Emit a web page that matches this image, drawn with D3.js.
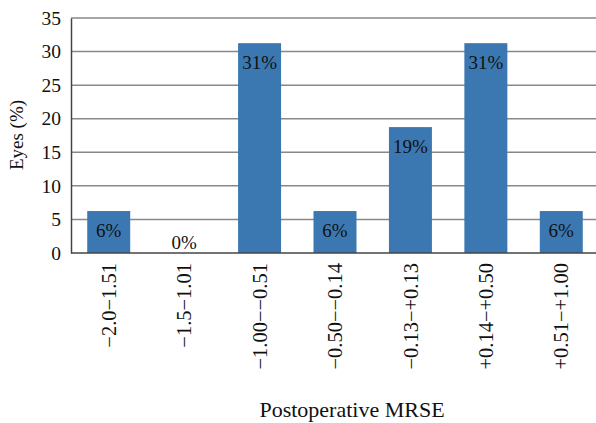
<!DOCTYPE html>
<html><head><meta charset="utf-8">
<script src="https://cdn.jsdelivr.net/npm/d3@7"></script>
<style>body{margin:0;background:#fff}svg{display:block}</style>
</head><body><svg id="c" width="596" height="423" style="font-family:'Liberation Serif',serif"></svg>
<script>
const categories = ["\u22122.0\u22121.51","\u22121.5\u22121.01","\u22121.00\u2212\u22120.51","\u22120.50\u2212\u22120.14","\u22120.13\u2212+0.13","+0.14\u2212+0.50","+0.51\u2212+1.00"];
const values = [6.25, 0, 31.25, 6.25, 18.75, 31.25, 6.25];
const labels = ["6%","0%","31%","6%","19%","31%","6%"];
const yTicks = [0,5,10,15,20,25,30,35];

const FONT = "'Liberation Serif', 'Times New Roman', serif";
const svg = d3.select("#c");
const x = d3.scaleBand().domain(categories).range([71, 599]).paddingInner(0.43).paddingOuter(0.215);
const y = d3.scaleLinear().domain([0,35]).range([253, 18]);

svg.append("g").selectAll("line").data(yTicks.filter(d=>d>0)).join("line")
  .attr("x1",71).attr("x2",596).attr("y1",d=>y(d)).attr("y2",d=>y(d))
  .attr("stroke","#888").attr("stroke-width",1.5);

svg.append("g").selectAll("rect").data(values).join("rect")
  .attr("x",(d,i)=>x(categories[i])).attr("width",x.bandwidth())
  .attr("y",d=>y(d)).attr("height",d=>y(0)-y(d)).attr("fill","#3B78B1");

svg.append("g").selectAll("text").data(values).join("text")
  .attr("x",(d,i)=>x(categories[i])+x.bandwidth()/2)
  .attr("y",d=> d===0 ? y(0)-4 : y(d)+26)
  .attr("text-anchor","middle").style("font-family",FONT).style("font-size","19px").style("fill","#111")
  .text((d,i)=>labels[i]);

const ya = d3.axisLeft(y).tickValues(yTicks).tickSize(0).tickPadding(10);
const gy = svg.append("g").attr("transform","translate(71,0)").call(ya);
gy.select(".domain").attr("stroke","#444").attr("stroke-width",1.5);
gy.selectAll("text").style("font-family",FONT).style("font-size","19.5px").style("fill","#111");

const xa = d3.axisBottom(x).tickSize(0).tickPadding(0);
const gx = svg.append("g").attr("transform","translate(0,253)").call(xa);
gx.select(".domain").attr("d","M71,0H596").attr("stroke","#444").attr("stroke-width",1.5);
gx.selectAll("text").style("font-family",FONT).style("font-size","20.5px").style("fill","#111")
  .attr("transform","rotate(-90)").attr("text-anchor","end").attr("x",-10).attr("y",0).attr("dy","0.35em");

svg.append("text").attr("transform","translate(23,135) rotate(-90)").attr("text-anchor","middle")
  .style("font-family",FONT).style("font-size","19px").style("fill","#111").text("Eyes (%)");
svg.append("text").attr("x",352).attr("y",417).attr("text-anchor","middle")
  .style("font-family",FONT).style("font-size","22px").style("fill","#111").text("Postoperative MRSE");
</script></body></html>
